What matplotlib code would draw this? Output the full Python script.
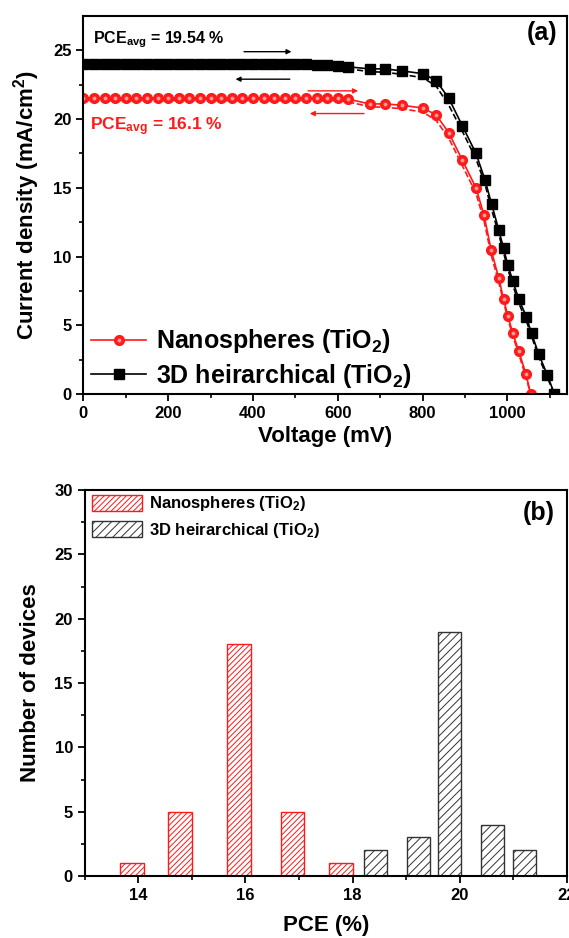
import numpy as np
import matplotlib
matplotlib.use('Agg')
import matplotlib.pyplot as plt
from matplotlib.legend_handler import HandlerTuple
from matplotlib.patches import Patch

plt.rcParams['font.family'] = ['Liberation Sans', 'DejaVu Sans']
plt.rcParams['font.weight'] = 'bold'
plt.rcParams['mathtext.default'] = 'regular'
plt.rcParams['hatch.linewidth'] = 0.7

# ---- (a) J-V curves, forward scan (markers) and reverse scan (dashed) ----
plateau_v = list(range(0, 650, 25))
knee_v = [675, 712, 752, 801, 832, 862, 894, 926]

v_nano = plateau_v + knee_v + [945, 962, 980, 991, 1001, 1013, 1027, 1044, 1055]
j_nano_fwd = [21.5] * 25 + [21.45] + \
    [21.1, 21.1, 21.0, 20.8, 20.3, 19.0, 17.0, 15.0,
     13.0, 10.45, 8.4, 6.9, 5.7, 4.4, 3.1, 1.44, 0.0]
j_nano_rev = [21.35] * 25 + [21.25] + \
    [20.9, 20.85, 20.75, 20.5, 19.9, 18.6, 16.6, 14.6,
     12.6, 10.1, 8.1, 6.7, 5.5, 4.2, 2.9, 1.2, 0.0]

v_hier = plateau_v + knee_v + [947, 963, 980, 991, 1001, 1013, 1027, 1045, 1057, 1074, 1094, 1111]
j_hier_fwd = [24.0] * 22 + [23.95, 23.9, 23.85, 23.8] + \
    [23.65, 23.65, 23.5, 23.3, 22.8, 21.5, 19.5, 17.5,
     15.6, 13.8, 11.9, 10.6, 9.4, 8.2, 6.9, 5.6, 4.4, 2.9, 1.4, 0.0]
j_hier_rev = [23.85] * 22 + [23.8, 23.75, 23.7, 23.65] + \
    [23.45, 23.4, 23.25, 23.0, 22.4, 21.0, 19.1, 17.1,
     15.3, 13.4, 11.6, 10.3, 9.1, 7.9, 6.6, 5.3, 4.2, 2.7, 1.2, 0.0]

# ---- (b) PCE histogram ----
pce_nano = [13.88, 14.78, 15.88, 16.88, 17.78]
count_nano = [1, 5, 18, 5, 1]
pce_hier = [18.43, 19.23, 19.81, 20.61, 21.21]
count_hier = [2, 3, 19, 4, 2]

RED = '#ff1a1a'

fig = plt.figure(figsize=(5.69, 9.38), dpi=100)
ax1 = fig.add_axes([0.1464, 0.58, 0.8496, 0.403])
ax2 = fig.add_axes([0.149, 0.066, 0.847, 0.4116])

for ax in (ax1, ax2):
    for sp in ax.spines.values():
        sp.set_linewidth(1.5)
    ax.tick_params(which='major', direction='out', length=5, width=1.3, labelsize=12)
    ax.tick_params(which='minor', direction='out', length=3, width=1.2)

# panel (a)
ax1.plot(v_nano, j_nano_rev, '--', color=RED, lw=1.2)
ax1.plot(v_hier, j_hier_rev, '--', color='black', lw=1.2)
l_nano, = ax1.plot(v_nano, j_nano_fwd, '-', color=RED, lw=1.2, marker='o', ms=7,
                   mfc=RED, mec=RED)
l_nano_hi, = ax1.plot(v_nano, j_nano_fwd, ls='none', marker='o', ms=2.8,
                      mfc='#ff9a9a', mec='none')
l_hier, = ax1.plot(v_hier, j_hier_fwd, '-', color='black', lw=1.2, marker='s', ms=6.5)

ax1.set_xlim(0, 1140)
ax1.set_ylim(0, 27.5)
ax1.set_xticks(np.arange(0, 1001, 200))
ax1.set_xticks(np.arange(100, 1140, 200), minor=True)
ax1.set_yticks(np.arange(0, 26, 5))
ax1.set_yticks(np.arange(2.5, 27.5, 5), minor=True)
ax1.set_xlabel('Voltage (mV)', fontsize=16, fontweight='bold', labelpad=4)
ax1.set_ylabel('Current density (mA/cm$^2$)', fontsize=16, fontweight='bold', labelpad=8)

ax1.text(22, 25.5, 'PCE$_{avg}$ = 19.54 %', fontsize=11.5, fontweight='bold',
         color='black', va='baseline')
ax1.text(16, 19.17, 'PCE$_{avg}$ = 16.1 %', fontsize=12.5, fontweight='bold',
         color=RED, va='baseline')
ax1.text(0.98, 0.955, '(a)', transform=ax1.transAxes, fontsize=18, fontweight='bold',
         ha='right', va='center')

arrows = [((379, 24.9), (491, 24.9), 'black'),
          ((487, 22.9), (359, 22.9), 'black'),
          ((530, 22.05), (648, 22.05), RED),
          ((662, 20.4), (534, 20.4), RED)]
for start, end, c in arrows:
    ax1.annotate('', xy=end, xytext=start,
                 arrowprops=dict(arrowstyle='-|>', color=c, lw=1.0, mutation_scale=7,
                                 shrinkA=0, shrinkB=0))

ax1.legend([(l_nano, l_nano_hi), l_hier],
           ['Nanospheres (TiO$_2$)', '3D heirarchical (TiO$_2$)'],
           handler_map={tuple: HandlerTuple(ndivide=1)},
           loc='lower left', bbox_to_anchor=(-0.02, -0.035), frameon=False,
           prop={'size': 18, 'weight': 'bold'}, handlelength=2.2,
           handletextpad=0.4, labelspacing=0.25, borderaxespad=0.3)

# panel (b)
ax2.bar(pce_nano, count_nano, width=0.44, facecolor='white', edgecolor=RED,
        hatch='//////', linewidth=1.0)
ax2.bar(pce_hier, count_hier, width=0.44, facecolor='white', edgecolor='#333333',
        hatch='////', linewidth=1.0)
ax2.set_xlim(13, 22)
ax2.set_ylim(0, 30)
ax2.set_xticks([14, 16, 18, 20, 22])
ax2.set_xticks([13, 15, 17, 19, 21], minor=True)
ax2.set_yticks(np.arange(0, 31, 5))
ax2.set_yticks(np.arange(2.5, 30, 5), minor=True)
ax2.set_xlabel('PCE (%)', fontsize=16, fontweight='bold', labelpad=9)
ax2.set_ylabel('Number of devices', fontsize=16, fontweight='bold', labelpad=10)
ax2.text(0.976, 0.94, '(b)', transform=ax2.transAxes, fontsize=18, fontweight='bold',
         ha='right', va='center')

handles = [Patch(facecolor='white', edgecolor=RED, hatch='//////'),
           Patch(facecolor='white', edgecolor='#333333', hatch='////')]
ax2.legend(handles, ['Nanospheres (TiO$_2$)', '3D heirarchical (TiO$_2$)'],
           loc='upper left', bbox_to_anchor=(-0.005, 1.015), frameon=False,
           prop={'size': 12, 'weight': 'bold'},
           handlelength=3.0, handleheight=1.1, handletextpad=0.4,
           labelspacing=0.45, borderaxespad=0.2)

fig.savefig('out.png', dpi=100)
